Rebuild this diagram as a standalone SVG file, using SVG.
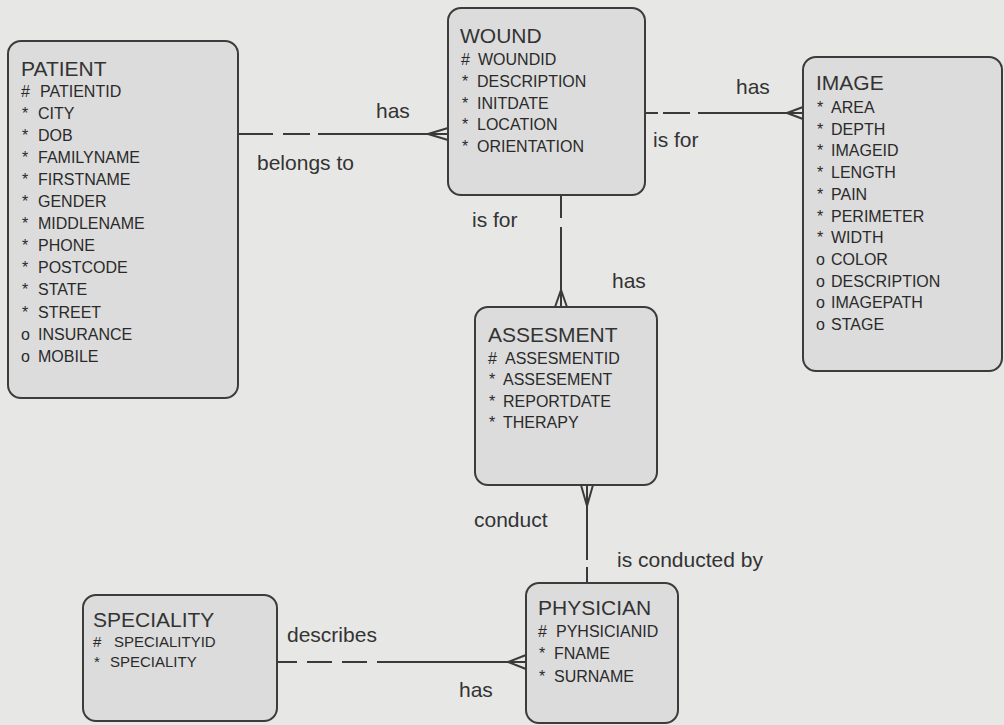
<svg xmlns="http://www.w3.org/2000/svg" width="1004" height="725" viewBox="0 0 1004 725">
  <style>
    .entity { fill: #dcdcdc; stroke: #3c3c3c; stroke-width: 2; }
    .title { font-family: "Liberation Sans", Arial, sans-serif; font-size: 21px; fill: #333333; }
    .attr { font-family: "Liberation Sans", Arial, sans-serif; font-size: 16px; fill: #2a2a2a; }
    .attr.small { font-size: 15px; }
    .label { font-family: "Liberation Sans", Arial, sans-serif; font-size: 21px; fill: #333333; }
    .rel { fill: none; stroke: #3a3a3a; stroke-width: 2; }
  </style>
  <rect width="1004" height="725" fill="#e7e7e6"/>

  <!-- relationship lines: dashed half = optional, crow's foot = many -->
  <g id="connectors">
    <!-- PATIENT to WOUND -->
    <path class="rel" d="M238,134 H273 M283,134 H310 M318,134 H448"/>
    <path class="rel" d="M428,134 L448,128 M428,134 L448,140"/>
    <!-- WOUND to IMAGE -->
    <path class="rel" d="M645,113 H658 M663,113 H690 M698,113 H803"/>
    <path class="rel" d="M787,113 L803,107 M787,113 L803,119"/>
    <!-- WOUND to ASSESMENT -->
    <path class="rel" d="M561,195 V218 M561,227 V307"/>
    <path class="rel" d="M561,290 L555,307 M561,290 L567,307"/>
    <!-- ASSESMENT to PHYSICIAN -->
    <path class="rel" d="M587,485 V560 M587,567 V583"/>
    <path class="rel" d="M587,506 L581,485 M587,506 L593,485"/>
    <!-- SPECIALITY to PHYSICIAN -->
    <path class="rel" d="M277,662 H297 M307,662 H332 M342,662 H367 M377,662 H526"/>
    <path class="rel" d="M508,662 L526,655 M508,662 L526,669"/>
  </g>

  <g id="labels">
    <text class="label" x="376" y="118">has</text>
    <text class="label" x="257" y="170">belongs to</text>
    <text class="label" x="736" y="94">has</text>
    <text class="label" x="653" y="147">is for</text>
    <text class="label" x="472" y="227">is for</text>
    <text class="label" x="612" y="288">has</text>
    <text class="label" x="474" y="527">conduct</text>
    <text class="label" x="617" y="567">is conducted by</text>
    <text class="label" x="287" y="642">describes</text>
    <text class="label" x="459" y="697">has</text>
  </g>

  <g id="patient">
    <rect class="entity" x="8" y="41" width="230" height="357" rx="13"/>
    <text class="title" x="21" y="76">PATIENT</text>
    <text class="attr"><tspan x="21" y="96.5">#</tspan><tspan x="40" y="96.5">PATIENTID</tspan></text>
    <text class="attr"><tspan x="22" y="118.6">*</tspan><tspan x="38" y="118.6">CITY</tspan></text>
    <text class="attr"><tspan x="22" y="140.7">*</tspan><tspan x="38" y="140.7">DOB</tspan></text>
    <text class="attr"><tspan x="22" y="162.8">*</tspan><tspan x="38" y="162.8">FAMILYNAME</tspan></text>
    <text class="attr"><tspan x="22" y="184.9">*</tspan><tspan x="38" y="184.9">FIRSTNAME</tspan></text>
    <text class="attr"><tspan x="22" y="207">*</tspan><tspan x="38" y="207">GENDER</tspan></text>
    <text class="attr"><tspan x="22" y="229.1">*</tspan><tspan x="38" y="229.1">MIDDLENAME</tspan></text>
    <text class="attr"><tspan x="22" y="251.2">*</tspan><tspan x="38" y="251.2">PHONE</tspan></text>
    <text class="attr"><tspan x="22" y="273.3">*</tspan><tspan x="38" y="273.3">POSTCODE</tspan></text>
    <text class="attr"><tspan x="22" y="295.4">*</tspan><tspan x="38" y="295.4">STATE</tspan></text>
    <text class="attr"><tspan x="22" y="317.5">*</tspan><tspan x="38" y="317.5">STREET</tspan></text>
    <text class="attr"><tspan x="21" y="339.6">o</tspan><tspan x="38" y="339.6">INSURANCE</tspan></text>
    <text class="attr"><tspan x="21" y="361.7">o</tspan><tspan x="38" y="361.7">MOBILE</tspan></text>
  </g>

  <g id="wound">
    <rect class="entity" x="448" y="8" width="197" height="187" rx="13"/>
    <text class="title" x="460" y="43">WOUND</text>
    <text class="attr"><tspan x="461" y="65">#</tspan><tspan x="478" y="65">WOUNDID</tspan></text>
    <text class="attr"><tspan x="462" y="86.8">*</tspan><tspan x="477" y="86.8">DESCRIPTION</tspan></text>
    <text class="attr"><tspan x="462" y="108.6">*</tspan><tspan x="477" y="108.6">INITDATE</tspan></text>
    <text class="attr"><tspan x="462" y="130.4">*</tspan><tspan x="477" y="130.4">LOCATION</tspan></text>
    <text class="attr"><tspan x="462" y="152.2">*</tspan><tspan x="477" y="152.2">ORIENTATION</tspan></text>
  </g>

  <g id="image">
    <rect class="entity" x="803" y="57" width="199" height="314" rx="13"/>
    <text class="title" x="816" y="90">IMAGE</text>
    <text class="attr"><tspan x="817" y="113">*</tspan><tspan x="831" y="113">AREA</tspan></text>
    <text class="attr"><tspan x="817" y="134.7">*</tspan><tspan x="831" y="134.7">DEPTH</tspan></text>
    <text class="attr"><tspan x="817" y="156.4">*</tspan><tspan x="831" y="156.4">IMAGEID</tspan></text>
    <text class="attr"><tspan x="817" y="178.1">*</tspan><tspan x="831" y="178.1">LENGTH</tspan></text>
    <text class="attr"><tspan x="817" y="199.8">*</tspan><tspan x="831" y="199.8">PAIN</tspan></text>
    <text class="attr"><tspan x="817" y="221.5">*</tspan><tspan x="831" y="221.5">PERIMETER</tspan></text>
    <text class="attr"><tspan x="817" y="243.2">*</tspan><tspan x="831" y="243.2">WIDTH</tspan></text>
    <text class="attr"><tspan x="816" y="264.9">o</tspan><tspan x="831" y="264.9">COLOR</tspan></text>
    <text class="attr"><tspan x="816" y="286.6">o</tspan><tspan x="831" y="286.6">DESCRIPTION</tspan></text>
    <text class="attr"><tspan x="816" y="308.3">o</tspan><tspan x="831" y="308.3">IMAGEPATH</tspan></text>
    <text class="attr"><tspan x="816" y="330">o</tspan><tspan x="831" y="330">STAGE</tspan></text>
  </g>

  <g id="assesment">
    <rect class="entity" x="475" y="307" width="182" height="178" rx="13"/>
    <text class="title" x="488" y="342">ASSESMENT</text>
    <text class="attr"><tspan x="488" y="363.5">#</tspan><tspan x="505" y="363.5">ASSESMENTID</tspan></text>
    <text class="attr"><tspan x="489" y="385">*</tspan><tspan x="503" y="385">ASSESEMENT</tspan></text>
    <text class="attr"><tspan x="489" y="406.5">*</tspan><tspan x="503" y="406.5">REPORTDATE</tspan></text>
    <text class="attr"><tspan x="489" y="428">*</tspan><tspan x="503" y="428">THERAPY</tspan></text>
  </g>

  <g id="speciality">
    <rect class="entity" x="83" y="595" width="194" height="126" rx="13"/>
    <text class="title" x="93" y="627">SPECIALITY</text>
    <text class="attr small"><tspan x="93" y="646.5">#</tspan><tspan x="114" y="646.5">SPECIALITYID</tspan></text>
    <text class="attr small"><tspan x="94" y="667">*</tspan><tspan x="110" y="667">SPECIALITY</tspan></text>
  </g>

  <g id="physician">
    <rect class="entity" x="526" y="583" width="152" height="140" rx="13"/>
    <text class="title" x="538" y="615">PHYSICIAN</text>
    <text class="attr"><tspan x="538" y="637">#</tspan><tspan x="556" y="637">PYHSICIANID</tspan></text>
    <text class="attr"><tspan x="539" y="659.3">*</tspan><tspan x="554" y="659.3">FNAME</tspan></text>
    <text class="attr"><tspan x="539" y="681.6">*</tspan><tspan x="554" y="681.6">SURNAME</tspan></text>
  </g>
</svg>
